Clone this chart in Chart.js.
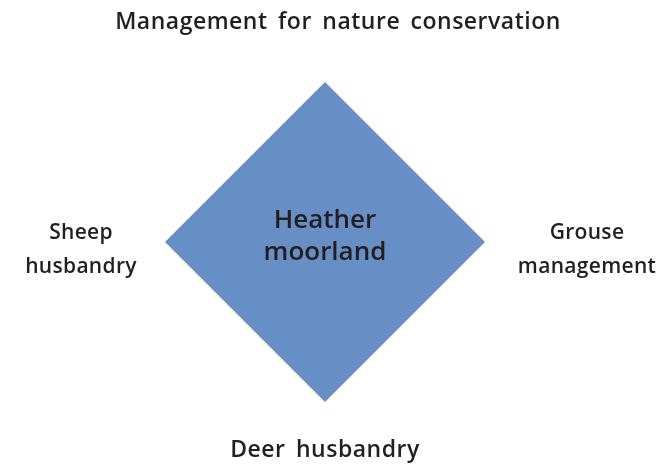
<!DOCTYPE html>
<html>
<head>
<meta charset="utf-8">
<script src="https://cdn.jsdelivr.net/npm/chart.js@4/dist/chart.umd.min.js"></script>
<style>
  html, body { margin: 0; padding: 0; background: #ffffff; }
  #wrap { width: 665px; height: 464px; position: relative; }
</style>
</head>
<body>
<div id="wrap"><canvas id="c" width="665" height="464"></canvas></div>
<script>
// Data: four management pressures arranged around the habitat (clockwise from top)
const categories = ["Management for nature conservation", "Grouse management", "Deer husbandry", "Sheep husbandry"];
const categoryLines = [["Management for nature conservation"], ["Grouse", "management"], ["Deer husbandry"], ["Sheep", "husbandry"]];
const influence = [1, 1, 1, 1];
const centreLabel = ["Heather", "moorland"];

// Styling
const FILL = "rgb(104,142,198)";
const TEXT = "#231f20";
const FAMILY = "'Open Sans', 'DejaVu Sans', sans-serif";
const labelFont = ["600 23px " + FAMILY, "600 21px " + FAMILY, "600 23px " + FAMILY, "600 21px " + FAMILY];
const labelLetter = ["0.5px", "0.3px", "0.5px", "0.3px"];
const labelWord = ["4px", "0px", "4px", "0px"];
const LINE_H = 34;
const BASE = 7;
const labelGap = [60, 102, 48, 84];
const labelShiftX = [13, 0, 0, 0];
const labelShiftY = [0, 7, 0, 7];

const labelPlugin = {
  id: 'labels',
  afterDatasetsDraw(chart) {
    const scale = chart.scales.r;
    const ctx = chart.ctx;
    ctx.save();
    ctx.fillStyle = TEXT;
    ctx.textAlign = 'center';
    ctx.textBaseline = 'alphabetic';
    categoryLines.forEach((lines, i) => {
      ctx.font = labelFont[i];
      ctx.letterSpacing = labelLetter[i];
      ctx.wordSpacing = labelWord[i];
      const p = scale.getPointPosition(i, scale.drawingArea + labelGap[i]);
      lines.forEach((t, k) => {
        const y = p.y + BASE + labelShiftY[i] + (k - (lines.length - 1) / 2) * LINE_H;
        ctx.fillText(t, p.x + labelShiftX[i], y);
      });
    });
    const cx = scale.xCenter, cy = scale.yCenter;
    ctx.font = "600 26px " + FAMILY;
    ctx.letterSpacing = "0px";
    ctx.wordSpacing = "0px";
    centreLabel.forEach((t, k) => {
      const y = cy + BASE - 5 + (k - (centreLabel.length - 1) / 2) * 32;
      ctx.fillText(t, cx, y);
    });
    ctx.restore();
  }
};

new Chart(document.getElementById('c'), {
  type: 'radar',
  data: {
    labels: categories,
    datasets: [{
      data: influence,
      backgroundColor: FILL,
      borderColor: FILL,
      borderWidth: 0,
      fill: true,
      pointRadius: 0,
      tension: 0
    }]
  },
  options: {
    responsive: false,
    animation: false,
    layout: { padding: { left: 165, right: 180, top: 82, bottom: 62 } },
    plugins: { legend: { display: false }, tooltip: { enabled: false } },
    scales: {
      r: {
        min: 0, max: 1,
        grid: { display: false },
        angleLines: { display: false },
        ticks: { display: false },
        pointLabels: { display: false }
      }
    }
  },
  plugins: [labelPlugin]
});
</script>
</body>
</html>
